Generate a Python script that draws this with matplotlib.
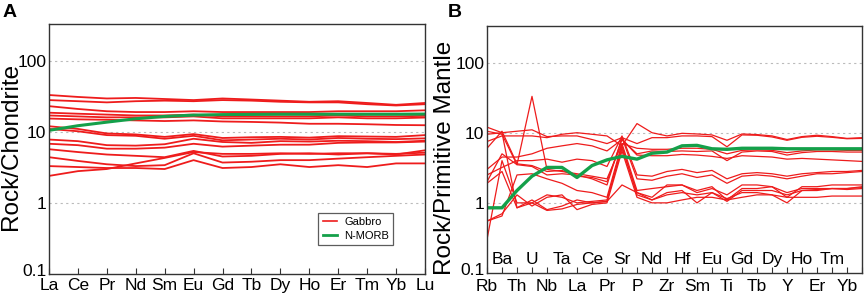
import matplotlib
matplotlib.use("Agg")
import matplotlib.pyplot as plt
import matplotlib.transforms as mtransforms
from matplotlib.lines import Line2D

plt.rcParams["font.family"] = ["Liberation Sans", "DejaVu Sans"]

RED = "#ee1c1c"
GREEN = "#14a04a"

# ---- panel A: chondrite-normalised REE ----
ree_elements = ["La", "Ce", "Pr", "Nd", "Sm", "Eu", "Gd", "Tb", "Dy", "Ho", "Er", "Tm", "Yb", "Lu"]

gabbro_ree = [
    [33, 31, 29.5, 30, 29, 28, 29.5, 28.5, 27.5, 26.5, 27, 25.5, 24, 25.5],
    [28, 27, 26, 27, 27.5, 27, 28, 27.5, 26.5, 26, 26, 24.5, 23.5, 24.5],
    [23, 21, 19.5, 19, 19, 19.5, 19, 19, 19, 19, 19.5, 19.5, 19.5, 20.1],
    [18.6, 18, 17.5, 17, 17, 17.5, 16.5, 16.5, 16.5, 16.5, 17, 16.5, 16.5, 16.8],
    [17, 16.5, 16, 16, 16, 16.5, 15.5, 15.5, 15.5, 15.5, 16, 15.5, 15.5, 15.9],
    [15.4, 15, 14.8, 14.5, 14.2, 14.5, 14, 13.8, 13.5, 13, 13, 12.8, 12.5, 12.4],
    [12, 11, 9.5, 9.2, 8.5, 9.3, 8.2, 8.4, 8.5, 8.3, 8.7, 8.6, 8.5, 9.0],
    [11, 10.2, 9, 8.8, 8.0, 8.8, 7.6, 7.8, 8.0, 7.8, 8.2, 8.0, 7.9, 8.1],
    [7.8, 7.4, 6.5, 6.4, 6.7, 8.0, 7.2, 7.0, 7.4, 7.3, 7.5, 7.4, 7.2, 7.5],
    [6.8, 6.5, 5.8, 5.8, 6.0, 6.8, 6.2, 6.4, 6.6, 6.6, 7.0, 7.1, 7.1, 7.3],
    [5.7, 5.2, 4.8, 4.6, 4.4, 5.4, 4.5, 4.6, 4.9, 5.0, 4.8, 5.0, 4.8, 5.5],
    [4.4, 3.9, 3.5, 3.3, 3.4, 5.0, 3.7, 3.8, 4.0, 4.0, 4.2, 4.4, 4.6, 4.8],
    [3.3, 3.2, 3.1, 3.1, 3.0, 4.0, 3.1, 3.2, 3.5, 3.2, 3.4, 3.2, 3.6, 3.6],
    [2.4, 2.8, 3.0, 3.6, 4.3, 5.2, 4.9, 4.9, 5.0, 4.9, 5.0, 5.0, 4.9, 5.1],
]
nmorb_ree = [10.5, 12.2, 13.7, 15.3, 16.5, 17.2, 17.5, 17.6, 17.7, 17.7, 17.7, 17.7, 17.7, 17.8]

# ---- panel B: primitive-mantle-normalised spider ----
spider_elements = ["Rb", "Ba", "Th", "U", "Nb", "Ta", "La", "Ce", "Pr", "Sr", "P", "Nd", "Zr",
                   "Hf", "Sm", "Eu", "Ti", "Gd", "Tb", "Dy", "Y", "Ho", "Er", "Tm", "Yb", "Lu"]

gabbro_spider = [
    [7.5, 9.0, 9.0, 9.0, 8.5, 9.5, 10.0, 9.5, 9.0, 6.5, 13.5, 10.0, 9.0, 9.8, 9.6, 9.3, 7.8, 9.6, 9.4, 9.0, 8.0, 8.8, 9.2, 8.8, 8.3, 8.5],
    [12, 10, 10.5, 11, 8.8, 9.0, 9.0, 8.0, 7.0, 8.5, 7.0, 8.5, 8.5, 9.0, 9.0, 8.8, 6.3, 9.3, 9.2, 8.7, 7.8, 8.6, 8.9, 8.6, 8.2, 8.3],
    [2.0, 5.0, 3.5, 33, 3.0, 2.8, 2.6, 2.4, 2.2, 7.0, 6.0, 5.8, 5.8, 6.0, 6.0, 5.8, 5.0, 5.6, 5.7, 5.6, 5.2, 5.5, 5.7, 5.7, 5.6, 5.6],
    [6.0, 10.5, 3.6, 3.4, 2.8, 2.9, 2.4, 2.3, 2.0, 8.0, 5.0, 5.5, 5.4, 5.5, 5.4, 5.5, 4.0, 5.3, 5.5, 5.4, 4.8, 5.2, 5.4, 5.4, 5.3, 5.3],
    [3.0, 4.5, 4.5, 5.0, 6.0, 6.5, 7.0, 6.5, 5.5, 8.0, 4.8, 4.7, 4.7, 4.9, 4.8, 4.6, 4.3, 4.7, 4.6, 4.5, 4.2, 4.3, 4.2, 4.1, 4.0, 3.9],
    [2.5, 3.2, 4.0, 4.0, 4.2, 3.8, 4.2, 4.0, 3.3, 9.0, 2.5, 2.4, 2.8, 3.0, 2.7, 2.9, 2.2, 2.6, 2.7, 2.6, 2.4, 2.6, 2.7, 2.8, 2.8, 2.9],
    [10.5, 9.5, 3.5, 3.3, 2.5, 2.6, 2.5, 2.2, 1.8, 8.5, 2.2, 2.1, 2.4, 2.6, 2.3, 2.5, 1.9, 2.4, 2.5, 2.4, 2.2, 2.4, 2.6, 2.6, 2.7, 2.8],
    [0.55, 0.65, 2.5, 2.6, 2.2, 1.9, 1.5, 1.4, 1.2, 7.0, 1.5, 1.6, 1.7, 1.8, 1.5, 1.7, 1.1, 1.6, 1.6, 1.7, 1.2, 1.7, 1.7, 1.8, 1.8, 1.8],
    [0.3, 4.0, 1.0, 1.0, 1.3, 1.2, 1.0, 1.05, 1.1, 6.0, 1.4, 1.2, 1.8, 1.8, 1.4, 1.6, 1.3, 1.8, 1.8, 1.7, 1.4, 1.6, 1.6, 1.6, 1.6, 1.7],
    [1.9, 2.8, 0.85, 1.1, 0.8, 0.9, 1.1, 1.0, 1.05, 1.8, 1.4, 1.1, 1.4, 1.5, 1.0, 1.4, 1.15, 1.4, 1.4, 1.3, 1.0, 1.5, 1.5, 1.6, 1.55, 1.6],
    [0.55, 0.7, 1.3, 0.9, 1.2, 1.3, 0.8, 0.95, 1.0, 5.5, 1.2, 1.0, 1.0, 1.1, 1.2, 1.2, 1.1, 1.2, 1.3, 1.3, 1.2, 1.2, 1.2, 1.25, 1.25, 1.25],
    [9.5, 10.0, 0.85, 1.0, 0.78, 0.82, 0.95, 1.0, 1.05, 6.5, 1.3, 1.1, 1.3, 1.4, 1.3, 1.4, 1.05, 1.5, 1.5, 1.5, 1.3, 1.5, 1.55, 1.6, 1.6, 1.65],
]
nmorb_spider = [0.85, 0.85, 1.5, 2.4, 3.2, 3.2, 2.3, 3.4, 4.1, 4.6, 4.2, 5.1, 5.3, 6.5, 6.6, 5.9,
                5.8, 6.0, 6.0, 6.0, 5.9, 5.9, 5.9, 5.9, 5.9, 5.9]


def style_log_axis(figure, axis):
    axis.set_yscale("log")
    axis.set_ylim(0.1, 330)
    axis.set_yticks([0.1, 1, 10, 100])
    axis.set_yticklabels(["0.1", "1", "10", "100"], fontsize=12.5)
    axis.minorticks_off()
    axis.tick_params(axis="y", length=0, pad=2)
    # the 0.1 label sits a little above the bottom corner in the original
    lowest = axis.get_yticklabels()[0]
    lowest.set_transform(lowest.get_transform()
                         + mtransforms.ScaledTranslation(0, 4 / 100, figure.dpi_scale_trans))
    for value in [1, 10, 100]:
        axis.axhline(value, color="#bbbbbb", lw=0.8, ls=(0, (2, 3)), zorder=0)
    for spine in axis.spines.values():
        spine.set_color("#333333")
        spine.set_linewidth(1.0)


fig = plt.figure(figsize=(8.65, 2.97), dpi=100)
ax_a = fig.add_axes([0.0566, 0.0774, 0.4347, 0.842])
ax_b = fig.add_axes([0.563, 0.0808, 0.4335, 0.831])

# panel A
for sample in gabbro_ree:
    ax_a.plot(range(len(ree_elements)), sample, color=RED, lw=1.3)
ax_a.plot(range(len(ree_elements)), nmorb_ree, color=GREEN, lw=2.2)
style_log_axis(fig, ax_a)
ax_a.set_xlim(0, len(ree_elements) - 1)
ax_a.set_xticks(range(len(ree_elements)))
ax_a.set_xticklabels(ree_elements, fontsize=12.5)
ax_a.tick_params(axis="x", direction="in", length=4, pad=3, color="#333333")

handles = [Line2D([], [], color=RED, lw=1.2), Line2D([], [], color=GREEN, lw=2)]
legend = ax_a.legend(handles, ["Gabbro", "N-MORB"], loc="lower left",
                     bbox_to_anchor=(0.702, 0.092), fontsize=8, frameon=True,
                     fancybox=False, handlelength=1.3, borderpad=0.4,
                     labelspacing=0.35, handletextpad=0.6)
legend.get_frame().set_edgecolor("#333333")
legend.get_frame().set_linewidth(0.9)

# panel B
for sample in gabbro_spider:
    ax_b.plot(range(len(spider_elements)), sample, color=RED, lw=0.9)
ax_b.plot(range(len(spider_elements)), nmorb_spider, color=GREEN, lw=2.4)
style_log_axis(fig, ax_b)
ax_b.set_xlim(0, len(spider_elements) - 1)
ax_b.set_xticks(range(len(spider_elements)))
ax_b.set_xticklabels([])
ax_b.tick_params(axis="x", direction="in", length=4, color="#333333")
x_trans = ax_b.get_xaxis_transform()
for index, name in enumerate(spider_elements[:-1]):
    if index % 2 == 0:
        ax_b.text(index, -0.025, name, transform=x_trans, ha="center", va="top", fontsize=12.5)
    else:
        ax_b.text(index, 0.025, name, transform=x_trans, ha="center", va="bottom", fontsize=12.5)

fig.text(11 / 865, 0.508, "Rock/Chondrite", rotation=90, ha="center", va="center", fontsize=17.5)
fig.text(445 / 865, 0.468, "Rock/Primitive Mantle", rotation=90, ha="center", va="center", fontsize=17.5)
fig.text(3 / 865, 1 - 4 / 297, "A", ha="left", va="top", fontsize=14, fontweight="bold")
fig.text(448 / 865, 1 - 4 / 297, "B", ha="left", va="top", fontsize=14, fontweight="bold")

fig.savefig("out.png", dpi=100)
